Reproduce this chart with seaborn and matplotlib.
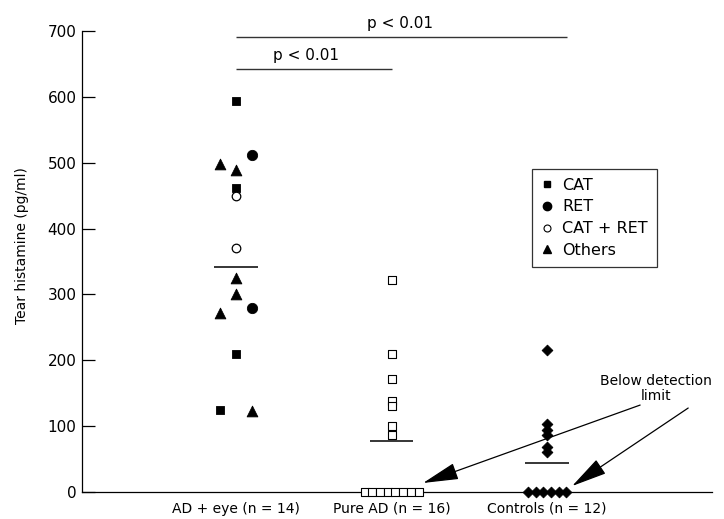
import numpy as np
import pandas as pd
import matplotlib
matplotlib.use("Agg")
import matplotlib.pyplot as plt
from matplotlib.lines import Line2D
import seaborn as sns

# ---------------- data ----------------
groups = ["AD + eye (n = 14)", "Pure AD (n = 16)", "Controls (n = 12)"]

ad_eye_values = [593, 511, 498, 489, 462, 449, 370, 325, 300, 279, 272, 210, 125, 123]
ad_eye_types = ["CAT", "RET", "Others", "Others", "CAT", "CAT + RET", "CAT + RET",
                "Others", "Others", "RET", "Others", "CAT", "CAT", "Others"]

pure_ad_values = [322, 209, 172, 138, 130, 100, 87, 0, 0, 0, 0, 0, 0, 0, 0]
control_values = [216, 103, 94, 87, 68, 60, 0, 0, 0, 0, 0, 0]

group_bars = [341, 77, 44]          # horizontal bar per group
p_labels = ["p < 0.01", "p < 0.01"]
legend_labels = ["CAT", "RET", "CAT + RET", "Others"]
y_ticks = [0, 100, 200, 300, 400, 500, 600, 700]

# ---------------- layout (not data) ----------------
ad_eye_slots = [0, 1, -1, 0, 0, 0, 0, 0, 0, 1, -1, 0, -1, 1]
slot_w = 0.103
zero_step = 0.0495


def spread_x(center, values):
    vals = np.asarray(values)
    xs = np.full(len(vals), float(center))
    zero_idx = np.where(vals == 0)[0]
    n = len(zero_idx)
    xs[zero_idx] = center + (np.arange(n) - (n - 1) / 2) * zero_step
    return xs


df_eye = pd.DataFrame({
    "x": 0 + np.array(ad_eye_slots) * slot_w,
    "y": ad_eye_values,
    "type": ad_eye_types,
})
df_pure = pd.DataFrame({"x": spread_x(1, pure_ad_values), "y": pure_ad_values})
df_ctrl = pd.DataFrame({"x": spread_x(2, control_values), "y": control_values})

sns.set_style("ticks")
plt.rcParams["font.family"] = ["DejaVu Sans"]
for k in ("text.color", "axes.labelcolor", "xtick.color", "ytick.color", "axes.edgecolor"):
    plt.rcParams[k] = "black"

fig = plt.figure(figsize=(7.24, 5.19), dpi=100)
ax = fig.add_axes([82 / 724, 27 / 519, (712 - 82) / 724, 492 / 519])

styles = {
    "CAT": dict(marker="s", s=40, color="black", edgecolor="black", linewidth=0.6),
    "RET": dict(marker="o", s=55, color="black", edgecolor="black", linewidth=0.6),
    "CAT + RET": dict(marker="o", s=38, facecolor="white", edgecolor="black", linewidth=0.9),
    "Others": dict(marker="^", s=60, color="black", edgecolor="black", linewidth=0.6),
}
for t, st in styles.items():
    sub = df_eye[df_eye["type"] == t]
    sns.scatterplot(data=sub, x="x", y="y", ax=ax, legend=False, clip_on=False, zorder=3, **st)

sns.scatterplot(data=df_pure, x="x", y="y", ax=ax, legend=False, marker="s", s=32,
                facecolor="white", edgecolor="black", linewidth=0.8, clip_on=False, zorder=3)
sns.scatterplot(data=df_ctrl, x="x", y="y", ax=ax, legend=False, marker="D", s=30,
                color="black", edgecolor="black", linewidth=0.6, clip_on=False, zorder=3)

# group bars
for i, v in enumerate(group_bars):
    ax.hlines(v, i - 0.14, i + 0.14, color="black", linewidth=1.1, zorder=2)

# significance bars
ax.hlines(691, 0, 2.13, color="#333333", linewidth=1.0, clip_on=False)
ax.hlines(642, 0, 1.0, color="#333333", linewidth=1.0, clip_on=False)
ax.text(1.055, 711, p_labels[0], ha="center", va="center", fontsize=11)
ax.text(0.45, 663, p_labels[1], ha="center", va="center", fontsize=11)

# annotation
ax.text(2.70, 157, "Below detection\nlimit", ha="center", va="center", fontsize=10,
        linespacing=1.05)
ap = dict(arrowstyle="-|>,head_length=1.6,head_width=0.38", color="black",
          linewidth=0.9, mutation_scale=14, shrinkA=0, shrinkB=0)
ax.annotate("", xy=(1.203, 13.7), xytext=(2.598, 132), arrowprops=ap)
ax.annotate("", xy=(2.161, 9.1), xytext=(2.907, 127.5), arrowprops=ap)

# axes
ax.set_xlim(-0.99, 3.06)
ax.set_ylim(0, 747)
ax.set_yticks(y_ticks)
ax.set_yticklabels([str(t) for t in y_ticks], fontsize=11)
ax.set_xticks([0, 1, 2])
ax.set_xticklabels(groups, fontsize=10)
ax.tick_params(axis="y", direction="in", length=9.5, width=0.9, pad=4)
ax.tick_params(axis="x", length=0, pad=7)
ax.set_xlabel("")
ax.set_ylabel("Tear histamine (pg/ml)", fontsize=10, labelpad=13)
sns.despine(ax=ax)
ax.spines["left"].set_bounds(0, 700)
for s in ("left", "bottom"):
    ax.spines[s].set_linewidth(0.9)
    ax.spines[s].set_color("black")

# legend
handles = [
    Line2D([], [], linestyle="none", marker="s", markersize=5, color="black"),
    Line2D([], [], linestyle="none", marker="o", markersize=6, color="black"),
    Line2D([], [], linestyle="none", marker="o", markersize=5, markerfacecolor="white",
           markeredgecolor="black", markeredgewidth=0.8),
    Line2D([], [], linestyle="none", marker="^", markersize=6, color="black"),
]
leg = ax.legend(handles, legend_labels, loc="upper left",
                bbox_to_anchor=((532 - 82) / 630, (492 - 169) / 492),
                borderaxespad=0, fontsize=11.5, frameon=True, fancybox=False,
                handlelength=0.8, handletextpad=0.55, labelspacing=0.42,
                borderpad=0.55)
leg.get_frame().set_edgecolor("black")
leg.get_frame().set_linewidth(0.9)

fig.savefig("out.png", dpi=100)
